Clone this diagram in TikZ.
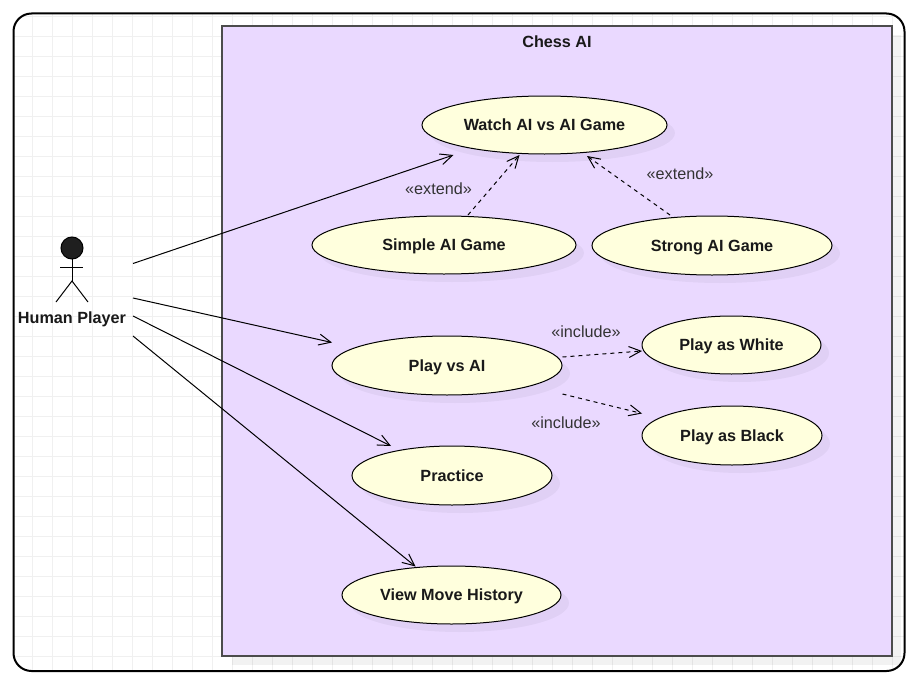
\documentclass[tikz,border=0pt]{standalone}
\usepackage{amsmath,amssymb}
\usepackage{fontspec}
\setmainfont{Liberation Sans}
\usepackage{tikz}
\usetikzlibrary{arrows.meta,shapes.geometric,shadows}
\definecolor{gridgray}{HTML}{F0F0F0}
\definecolor{boundary}{HTML}{EAD9FF}
\definecolor{caseyellow}{HTML}{FFFFDD}
\definecolor{labelgray}{HTML}{333333}
\tikzset{
	usecase/.style={ellipse,draw=black,fill=caseyellow,line width=1pt,inner sep=0pt,outer sep=0pt,
		text=black!90,text height=11.5pt,text depth=0pt,font=\fontsize{16.2}{19}\bfseries\selectfont,
		drop shadow={shadow xshift=8pt,shadow yshift=-8pt,fill=black,opacity=0.04}},
	stereo/.style={inner sep=0pt,text=labelgray,font=\fontsize{16.2}{19}\selectfont},
	assoc/.style={black,line width=1pt,-{Straight Barb[length=12pt,width=11pt]}},
	dep/.style={assoc,dash pattern=on 4pt off 4pt}
}
\begin{document}
\begin{tikzpicture}[x=1pt,y=-1pt]
		\useasboundingbox (0,0) rectangle (918,685);
		% page frame and grid
		\begin{scope}
		\clip [rounded corners=18pt] (13.5,13.5) rectangle (904.5,671);
		\foreach \gx in {32.5,52.5,...,892.5}
			\draw [gridgray,line width=1pt] (\gx,13.5) -- (\gx,671);
		\foreach \gy in {16.5,36.5,...,656.5}
			\draw [gridgray,line width=1pt] (13.5,\gy) -- (904.5,\gy);
		\end{scope}
		\draw [black,line width=2pt,rounded corners=18pt] (13.5,13.5) rectangle (904.5,671);
		% system boundary
		\fill [black,opacity=0.05] (232,35) rectangle (901,665);
		\draw [fill=boundary,draw=black!70,line width=1.5pt] (222,26) rectangle (892,656);
		\node (title) [inner sep=0pt,text=black!90,font=\fontsize{16.2}{19}\bfseries\selectfont] at (557,41.5) {Chess AI};
		% actor
		\node (head) [circle,draw=black,fill=black!88,line width=1pt,minimum size=22pt,inner sep=0pt,outer sep=0pt] at (72,248) {};
		\coordinate (hip) at (72,281);
		\coordinate (armL) at (60,267);
		\coordinate (armR) at (83,267);
		\coordinate (footL) at (56,302);
		\coordinate (footR) at (88,302);
		\draw [black,line width=1pt] (head.south) -- (hip);
		\draw [black,line width=1pt] (armL) -- (armR);
		\draw [black,line width=1pt] (footL) -- (hip) -- (footR);
		\node (actor) [inner sep=0pt,text=black!90,font=\fontsize{16.2}{19}\bfseries\selectfont] at (72,319.5) {Human Player};
		% use cases
		\node (watch) [usecase,minimum width=245pt,minimum height=58pt] at (544.5,125) {Watch AI vs AI Game};
		\node (simple) [usecase,minimum width=264pt,minimum height=58pt] at (444,245) {Simple AI Game};
		\node (strong) [usecase,minimum width=240pt,minimum height=59pt] at (712,245.5) {Strong AI Game};
		\node (play) [usecase,minimum width=230pt,minimum height=59pt] at (447,365.5) {Play vs AI};
		\node (white) [usecase,minimum width=179pt,minimum height=58pt] at (731.5,345) {Play as White};
		\node (black) [usecase,minimum width=180pt,minimum height=59pt] at (732,435.5) {Play as Black};
		\node (practice) [usecase,minimum width=200pt,minimum height=59pt] at (452,475.5) {Practice};
		\node (history) [usecase,minimum width=219pt,minimum height=58pt] at (451.5,595) {View Move History};
		% connector ends
		\coordinate (a1) at (133,263.5);
		\coordinate (a2) at (133,298);
		\coordinate (a3) at (133,316);
		\coordinate (a4) at (133,336);
		\coordinate (watchIn) at (453.5,155);
		\coordinate (playIn) at (332,342.5);
		\coordinate (practiceIn) at (391,446);
		\coordinate (historyIn) at (415.5,566.5);
		\coordinate (simpleOut) at (468,215);
		\coordinate (watchS) at (519.5,155);
		\coordinate (strongOut) at (670,215);
		\coordinate (watchE) at (587,156);
		\coordinate (playOutA) at (562.5,357);
		\coordinate (whiteIn) at (642,351);
		\coordinate (playOutB) at (562.5,394);
		\coordinate (blackIn) at (642,413.5);
		\draw [assoc] (a1) -- (watchIn);
		\draw [assoc] (a2) -- (playIn);
		\draw [assoc] (a3) -- (practiceIn);
		\draw [assoc] (a4) -- (historyIn);
		\draw [dep] (simpleOut) -- (watchS);
		\draw [dep] (strongOut) -- (watchE);
		\draw [dep] (playOutA) -- (whiteIn);
		\draw [dep] (playOutB) -- (blackIn);
		\node (extA) [stereo] at (438.5,188.5) {«extend»};
		\node (extB) [stereo] at (680,173.5) {«extend»};
		\node (incA) [stereo] at (586,331.5) {«include»};
		\node (incB) [stereo] at (566,422.5) {«include»};
		\end{tikzpicture}
\end{document}
